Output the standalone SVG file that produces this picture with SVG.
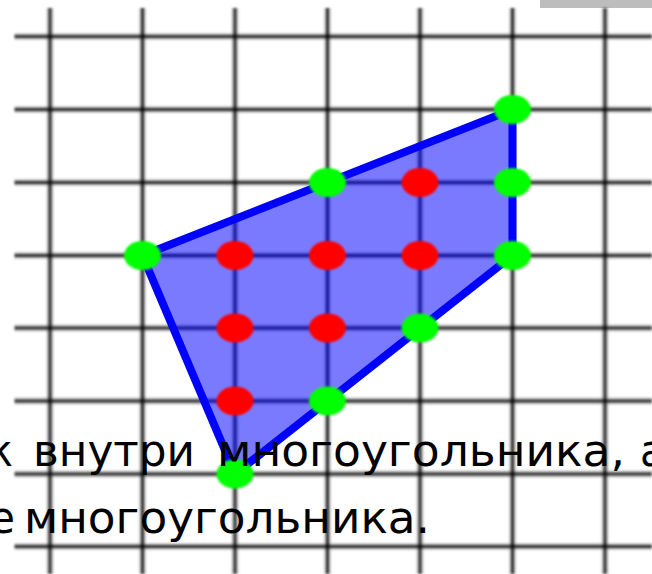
<svg xmlns="http://www.w3.org/2000/svg" width="652" height="574" viewBox="0 0 652 574">
  <defs>
    <filter id="soft" x="-20%" y="-20%" width="140%" height="140%">
      <feGaussianBlur stdDeviation="0.9"/>
    </filter>
  </defs>
  <style>
    .halo { stroke: #000; stroke-opacity: 0.22; stroke-width: 7; fill: none; }
    .core { stroke: #000; stroke-opacity: 0.72; stroke-width: 3; fill: none; }
    .g { fill: #00ff00; }
    .r { fill: #ff0000; }
    .txt { font-family: "DejaVu Sans", "Liberation Sans", sans-serif; font-size: 44px; fill: #000; }
  </style>
  <rect width="652" height="574" fill="#ffffff"/>
  <rect x="540" y="0" width="112" height="8" fill="#bdbdbd"/>
  <g id="grid" filter="url(#soft)">
    <g class="halo">
      <path d="M50 8V574M142.5 8V574M235 8V574M327.5 8V574M420 8V574M512.5 8V574M605 8V574"/>
      <path d="M14.5 36.5H652M14.5 109.5H652M14.5 182.5H652M14.5 255.5H652M14.5 328H652M14.5 401H652M14.5 474H652M14.5 546.5H652"/>
    </g>
    <g class="core">
      <path d="M50 8V574M142.5 8V574M235 8V574M327.5 8V574M420 8V574M512.5 8V574M605 8V574"/>
      <path d="M14.5 36.5H652M14.5 109.5H652M14.5 182.5H652M14.5 255.5H652M14.5 328H652M14.5 401H652M14.5 474H652M14.5 546.5H652"/>
    </g>
  </g>
  <g id="polygon">
    <polygon points="142.5,255.5 512.5,109.5 512.5,255.5 235,474" fill="#0000ff" fill-opacity="0.52" stroke="#0000ff" stroke-width="8" stroke-linejoin="round"/>
  </g>
  <g id="points" filter="url(#soft)">
    <ellipse class="g" cx="512.5" cy="109.5" rx="18.5" ry="14.5"/>
    <ellipse class="g" cx="327.5" cy="182.5" rx="18.5" ry="14.5"/>
    <ellipse class="r" cx="420" cy="182.5" rx="18.5" ry="14.5"/>
    <ellipse class="g" cx="512.5" cy="182.5" rx="18.5" ry="14.5"/>
    <ellipse class="g" cx="142.5" cy="255.5" rx="18.5" ry="14.5"/>
    <ellipse class="r" cx="235" cy="255.5" rx="18.5" ry="14.5"/>
    <ellipse class="r" cx="327.5" cy="255.5" rx="18.5" ry="14.5"/>
    <ellipse class="r" cx="420" cy="255.5" rx="18.5" ry="14.5"/>
    <ellipse class="g" cx="512.5" cy="255.5" rx="18.5" ry="14.5"/>
    <ellipse class="r" cx="235" cy="328" rx="18.5" ry="14.5"/>
    <ellipse class="r" cx="327.5" cy="328" rx="18.5" ry="14.5"/>
    <ellipse class="g" cx="420" cy="328" rx="18.5" ry="14.5"/>
    <ellipse class="r" cx="235" cy="401" rx="18.5" ry="14.5"/>
    <ellipse class="g" cx="327.5" cy="401" rx="18.5" ry="14.5"/>
    <ellipse class="g" cx="235" cy="474" rx="18.5" ry="14.5"/>
  </g>
  <g id="caption" class="txt">
    <text x="-12" y="466" textLength="25" lengthAdjust="spacingAndGlyphs">к</text>
    <text x="33" y="466" textLength="162" lengthAdjust="spacingAndGlyphs">внутри</text>
    <text x="217" y="466" textLength="408" lengthAdjust="spacingAndGlyphs">многоугольника,</text>
    <text x="640" y="466" textLength="25" lengthAdjust="spacingAndGlyphs">а</text>
    <text x="-11" y="533" textLength="26" lengthAdjust="spacingAndGlyphs">е</text>
    <text x="24" y="533" textLength="406" lengthAdjust="spacingAndGlyphs">многоугольника.</text>
  </g>
</svg>
